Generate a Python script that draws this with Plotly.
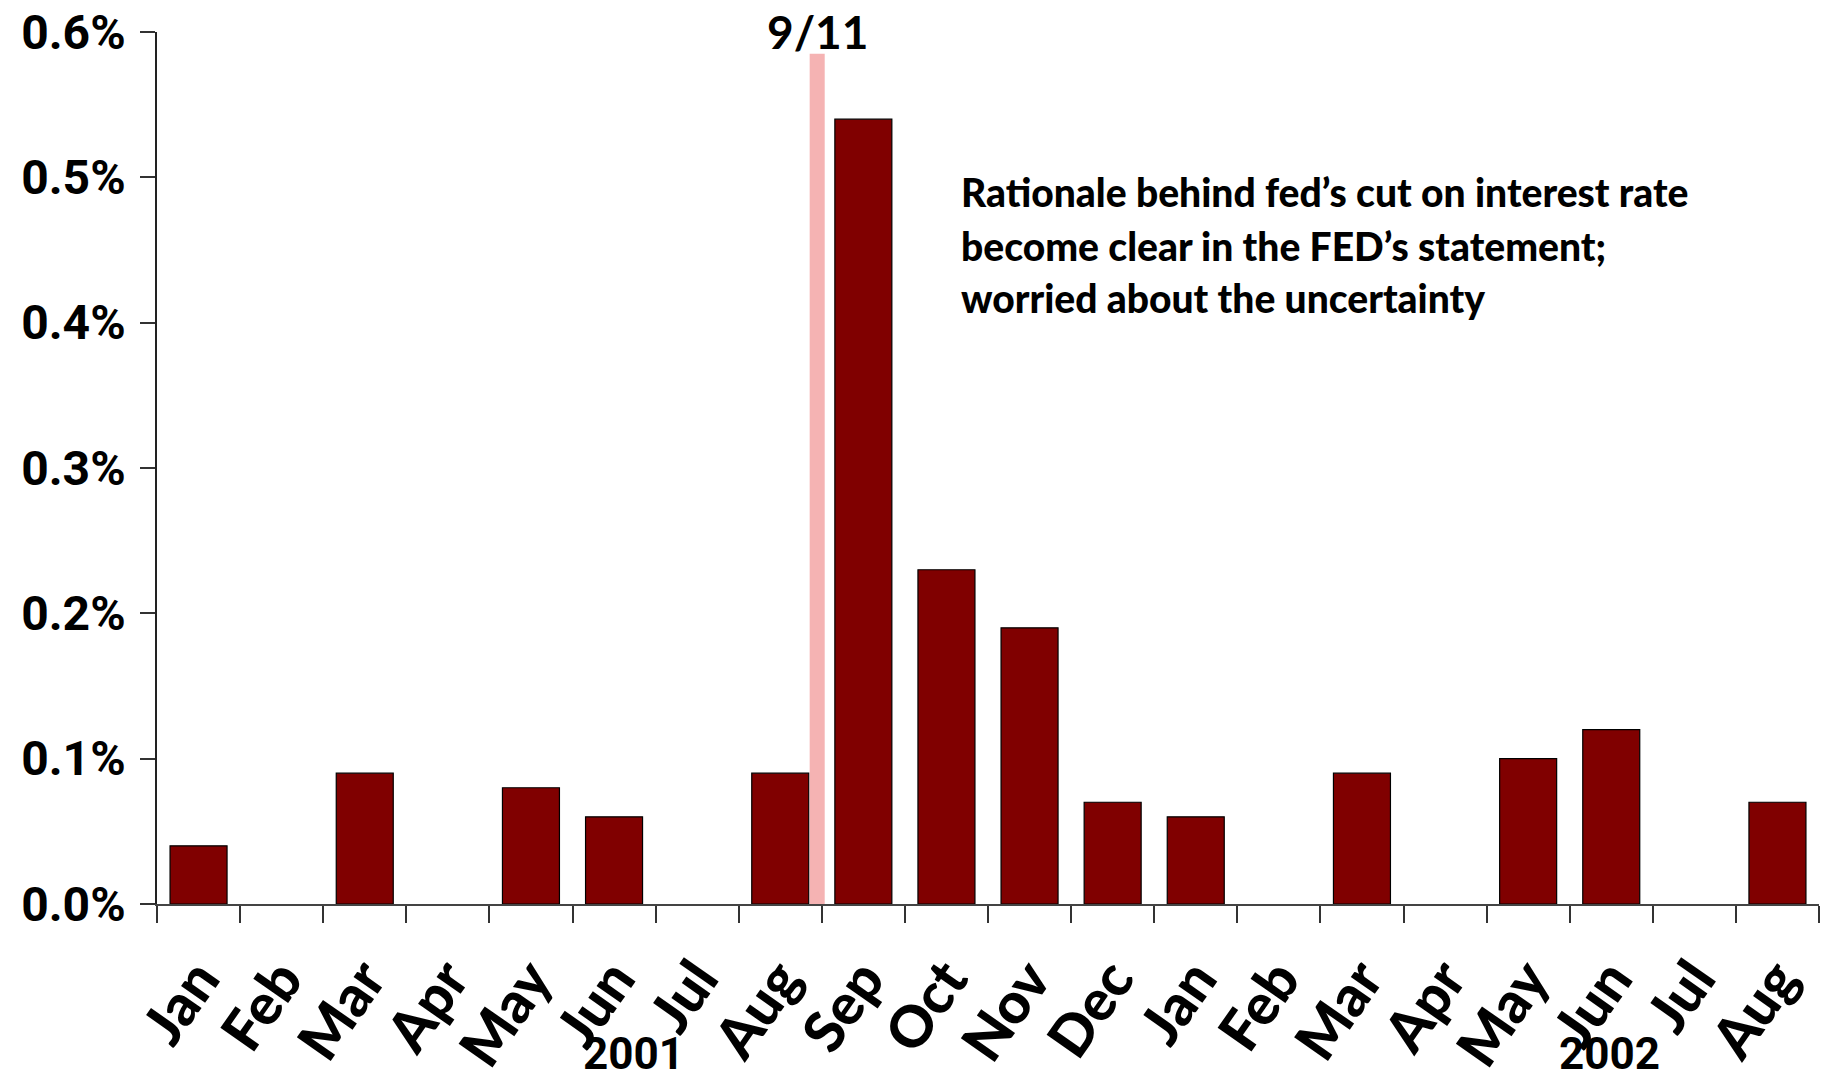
import plotly.graph_objects as go

months = ["Jan", "Feb", "Mar", "Apr", "May", "Jun", "Jul", "Aug", "Sep", "Oct",
          "Nov", "Dec", "Jan", "Feb", "Mar", "Apr", "May", "Jun", "Jul", "Aug"]
values = [0.04, 0.0, 0.09, 0.0, 0.08, 0.06, 0.0, 0.09, 0.54, 0.23,
          0.19, 0.07, 0.06, 0.0, 0.09, 0.0, 0.10, 0.12, 0.0, 0.07]
years = ["2001", "2002"]
year_pos = [5.23, 16.98]
y_ticks = [0.0, 0.1, 0.2, 0.3, 0.4, 0.5, 0.6]
event_label = "9/11"
event_x = [7.354, 7.535]
event_top = 0.585
note_lines = ["Rationale behind fed\u2019s cut on interest rate",
              "become clear in the FED\u2019s statement;",
              "worried about the uncertainty"]

x = list(range(len(months)))
NARROW = "Liberation Sans Narrow, Arial Narrow, Roboto, sans-serif"
GEO = "Lato, Open Sans, sans-serif"

fig = go.Figure()
fig.add_trace(go.Bar(x=x, y=values, width=0.686,
                     marker=dict(color="#800000",
                                 line=dict(color="black",
                                           width=[1.2 if v > 0 else 0 for v in values])),
                     showlegend=False))

fig.add_shape(type="rect", xref="x", yref="y", x0=event_x[0], x1=event_x[1],
              y0=-0.003, y1=event_top, line=dict(width=0),
              fillcolor="rgba(242,160,160,0.8)", layer="above")

fig.add_annotation(x=(event_x[0] + event_x[1]) / 2, y=event_top, xref="x", yref="y",
                   text="<b>" + event_label + "</b>", showarrow=False, yanchor="bottom",
                   yshift=-7, font=dict(family=GEO, size=46, color="black", weight=900))

note_y = [0.490, 0.453, 0.417]
for line, yy in zip(note_lines, note_y):
    fig.add_annotation(x=9.15, y=yy, xref="x", yref="y", text=line,
                       showarrow=False, xanchor="left", yanchor="middle",
                       font=dict(family=GEO, size=39, color="black", weight=900))

for yr, xp in zip(years, year_pos):
    fig.add_annotation(x=xp, y=0, xref="x", yref="paper", text="<b>" + yr + "</b>",
                       showarrow=False, yanchor="middle", yshift=-150,
                       font=dict(family=NARROW, size=44, color="black"))

fig.update_layout(
    width=1823, height=1082,
    margin=dict(l=157, r=4, t=27, b=176),
    plot_bgcolor="white", paper_bgcolor="white",
    xaxis=dict(range=[-0.5, 19.5], tickvals=x, ticktext=months,
               tickangle=-55, ticks="outside", ticklen=17, tickcolor="rgba(0,0,0,0)",
               showline=True, linecolor="#444", linewidth=1.5, showgrid=False, zeroline=False,
               tickfont=dict(family=GEO, size=57, color="black", weight=900),
               minor=dict(tickvals=[i - 0.5 for i in range(len(months) + 1)], ticks="outside",
                          ticklen=17, tickcolor="#333", tickwidth=1.5, showgrid=False)),
    yaxis=dict(range=[0, 0.6], tickvals=y_ticks, ticktext=["<b>%.1f%%</b>" % v for v in y_ticks],
               ticks="outside", ticklen=15, tickcolor="#333", tickwidth=1.5,
               ticklabeloverflow="allow", ticklabelstandoff=5,
               showline=True, linecolor="#222", linewidth=1.5, showgrid=False, zeroline=False,
               tickfont=dict(family=NARROW, size=48, color="black")),
)

fig.write_html("out.html")
